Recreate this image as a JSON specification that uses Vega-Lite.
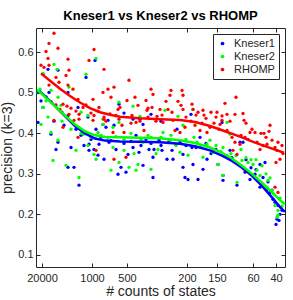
{
"$schema":"https://vega.github.io/schema/vega-lite/v6.json",
"width":249,"height":239,
"autosize":"none",
"padding":{"left":36,"top":28,"right":8,"bottom":33},
"background":"white",
"title":{"text":"Kneser1 vs Kneser2 vs RHOMP","fontSize":13,"font":"Liberation Sans","fontWeight":"bold","color":"#000000","offset":5,"anchor":"middle"},
"config":{
 "view":{"stroke":"#262626","strokeWidth":1},
 "axis":{"labelFont":"Liberation Sans","titleFont":"Liberation Sans","labelColor":"#262626","titleColor":"#262626","tickColor":"#262626","titleFontWeight":"normal","grid":false,"domain":false,"tickSize":-4,"labelFontSize":11,"titleFontSize":14},
 "legend":{"labelFont":"Liberation Sans","labelFontSize":11,"labelColor":"#262626"}
},
"datasets":{
"pts":[
{"series":"Kneser1","rank":59,"p":0.58},{"series":"Kneser1","rank":50,"p":0.538},{"series":"Kneser1","rank":22,"p":0.556},{"series":"Kneser1","rank":7,"p":0.546},{"series":"Kneser1","rank":12,"p":0.558},{"series":"Kneser1","rank":32,"p":0.501},{"series":"Kneser1","rank":13,"p":0.501},{"series":"Kneser1","rank":7,"p":0.464},{"series":"Kneser1","rank":83,"p":0.472},{"series":"Kneser1","rank":32,"p":0.444},{"series":"Kneser1","rank":52,"p":0.44},{"series":"Kneser1","rank":72,"p":0.432},{"series":"Kneser1","rank":42,"p":0.464},
{"series":"Kneser1","rank":115,"p":0.447},{"series":"Kneser1","rank":155,"p":0.447},{"series":"Kneser1","rank":104,"p":0.435},
{"series":"Kneser1","rank":2,"p":0.427},{"series":"Kneser1","rank":15,"p":0.398},{"series":"Kneser1","rank":22,"p":0.378},{"series":"Kneser1","rank":20,"p":0.36},{"series":"Kneser1","rank":32,"p":0.316},{"series":"Kneser1","rank":38,"p":0.316},{"series":"Kneser1","rank":35,"p":0.365},{"series":"Kneser1","rank":43,"p":0.272},{"series":"Kneser1","rank":48,"p":0.37},{"series":"Kneser1","rank":53,"p":0.373},{"series":"Kneser1","rank":53,"p":0.358},{"series":"Kneser1","rank":58,"p":0.36},{"series":"Kneser1","rank":62,"p":0.346},{"series":"Kneser1","rank":63,"p":0.373},{"series":"Kneser1","rank":68,"p":0.336},{"series":"Kneser1","rank":70,"p":0.415},{"series":"Kneser1","rank":73,"p":0.378},{"series":"Kneser1","rank":80,"p":0.36},{"series":"Kneser1","rank":82,"p":0.299},{"series":"Kneser1","rank":85,"p":0.316},{"series":"Kneser1","rank":90,"p":0.304},{"series":"Kneser1","rank":92,"p":0.348},{"series":"Kneser1","rank":97,"p":0.365},{"series":"Kneser1","rank":100,"p":0.395},{"series":"Kneser1","rank":103,"p":0.353},{"series":"Kneser1","rank":107,"p":0.321},{"series":"Kneser1","rank":110,"p":0.385},{"series":"Kneser1","rank":113,"p":0.36},{"series":"Kneser1","rank":117,"p":0.341},{"series":"Kneser1","rank":117,"p":0.291},{"series":"Kneser1","rank":118,"p":0.36},{"series":"Kneser1","rank":123,"p":0.383},{"series":"Kneser1","rank":67,"p":0.422},{"series":"Kneser1","rank":107,"p":0.422},{"series":"Kneser1","rank":97,"p":0.435},
{"series":"Kneser1","rank":126,"p":0.358},{"series":"Kneser1","rank":131,"p":0.336},{"series":"Kneser1","rank":137,"p":0.336},{"series":"Kneser1","rank":136,"p":0.358},{"series":"Kneser1","rank":147,"p":0.348},{"series":"Kneser1","rank":147,"p":0.316},{"series":"Kneser1","rank":149,"p":0.291},{"series":"Kneser1","rank":152,"p":0.286},{"series":"Kneser1","rank":162,"p":0.286},{"series":"Kneser1","rank":167,"p":0.311},{"series":"Kneser1","rank":164,"p":0.39},{"series":"Kneser1","rank":187,"p":0.284},{"series":"Kneser1","rank":187,"p":0.296},{"series":"Kneser1","rank":201,"p":0.272},{"series":"Kneser1","rank":182,"p":0.323},{"series":"Kneser1","rank":186,"p":0.427},{"series":"Kneser1","rank":194,"p":0.358},{"series":"Kneser1","rank":204,"p":0.378},{"series":"Kneser1","rank":207,"p":0.378},{"series":"Kneser1","rank":209,"p":0.304},{"series":"Kneser1","rank":214,"p":0.286},{"series":"Kneser1","rank":219,"p":0.299},{"series":"Kneser1","rank":224,"p":0.267},{"series":"Kneser1","rank":227,"p":0.291},{"series":"Kneser1","rank":231,"p":0.262},{"series":"Kneser1","rank":234,"p":0.254},{"series":"Kneser1","rank":237,"p":0.237},{"series":"Kneser1","rank":239,"p":0.23},{"series":"Kneser1","rank":242,"p":0.222},{"series":"Kneser1","rank":240,"p":0.175},{"series":"Kneser1","rank":241,"p":0.188},{"series":"Kneser1","rank":243,"p":0.185},{"series":"Kneser1","rank":244,"p":0.2},{"series":"Kneser1","rank":156,"p":0.365},{"series":"Kneser1","rank":171,"p":0.336},{"series":"Kneser1","rank":157,"p":0.323},{"series":"Kneser1","rank":144,"p":0.378},{"series":"Kneser1","rank":224,"p":0.323},{"series":"Kneser1","rank":229,"p":0.328},
{"series":"Kneser1","rank":5,"p":0.48},{"series":"Kneser1","rank":10,"p":0.49},{"series":"Kneser1","rank":18,"p":0.43},{"series":"Kneser1","rank":28,"p":0.42},{"series":"Kneser1","rank":40,"p":0.41},{"series":"Kneser1","rank":45,"p":0.395},{"series":"Kneser1","rank":55,"p":0.385},{"series":"Kneser1","rank":65,"p":0.39},{"series":"Kneser1","rank":75,"p":0.382},{"series":"Kneser1","rank":88,"p":0.375},{"series":"Kneser1","rank":95,"p":0.38},{"series":"Kneser1","rank":105,"p":0.37},{"series":"Kneser1","rank":115,"p":0.375},{"series":"Kneser1","rank":125,"p":0.37},{"series":"Kneser1","rank":133,"p":0.38},{"series":"Kneser1","rank":140,"p":0.372},{"series":"Kneser1","rank":150,"p":0.37},{"series":"Kneser1","rank":160,"p":0.365},{"series":"Kneser1","rank":170,"p":0.375},{"series":"Kneser1","rank":175,"p":0.35},{"series":"Kneser1","rank":180,"p":0.36},{"series":"Kneser1","rank":190,"p":0.345},{"series":"Kneser1","rank":196,"p":0.34},{"series":"Kneser1","rank":210,"p":0.335},{"series":"Kneser1","rank":215,"p":0.315},{"series":"Kneser1","rank":220,"p":0.31},{"series":"Kneser1","rank":232,"p":0.28},{"series":"Kneser1","rank":236,"p":0.26},{"series":"Kneser1","rank":246,"p":0.21},{"series":"Kneser1","rank":141,"p":0.41},{"series":"Kneser1","rank":125,"p":0.43},{"series":"Kneser1","rank":88,"p":0.45},{"series":"Kneser1","rank":78,"p":0.42},{"series":"Kneser1","rank":60,"p":0.41},
{"series":"Kneser2","rank":60,"p":0.585},{"series":"Kneser2","rank":50,"p":0.546},{"series":"Kneser2","rank":21,"p":0.558},{"series":"Kneser2","rank":18,"p":0.57},{"series":"Kneser2","rank":7,"p":0.548},{"series":"Kneser2","rank":4,"p":0.509},{"series":"Kneser2","rank":7,"p":0.464},{"series":"Kneser2","rank":15,"p":0.506},{"series":"Kneser2","rank":33,"p":0.514},{"series":"Kneser2","rank":25,"p":0.469},{"series":"Kneser2","rank":52,"p":0.444},{"series":"Kneser2","rank":67,"p":0.435},{"series":"Kneser2","rank":83,"p":0.477},{"series":"Kneser2","rank":45,"p":0.452},{"series":"Kneser2","rank":22,"p":0.489},
{"series":"Kneser2","rank":97,"p":0.467},{"series":"Kneser2","rank":129,"p":0.457},{"series":"Kneser2","rank":104,"p":0.442},{"series":"Kneser2","rank":157,"p":0.459},{"series":"Kneser2","rank":142,"p":0.442},
{"series":"Kneser2","rank":15,"p":0.402},{"series":"Kneser2","rank":22,"p":0.383},{"series":"Kneser2","rank":17,"p":0.333},{"series":"Kneser2","rank":30,"p":0.321},{"series":"Kneser2","rank":40,"p":0.358},{"series":"Kneser2","rank":43,"p":0.291},{"series":"Kneser2","rank":48,"p":0.398},{"series":"Kneser2","rank":52,"p":0.37},{"series":"Kneser2","rank":60,"p":0.336},{"series":"Kneser2","rank":58,"p":0.348},{"series":"Kneser2","rank":67,"p":0.422},{"series":"Kneser2","rank":75,"p":0.309},{"series":"Kneser2","rank":77,"p":0.365},{"series":"Kneser2","rank":83,"p":0.328},{"series":"Kneser2","rank":88,"p":0.358},{"series":"Kneser2","rank":93,"p":0.316},{"series":"Kneser2","rank":100,"p":0.309},{"series":"Kneser2","rank":102,"p":0.323},{"series":"Kneser2","rank":107,"p":0.378},{"series":"Kneser2","rank":112,"p":0.395},{"series":"Kneser2","rank":115,"p":0.311},{"series":"Kneser2","rank":122,"p":0.36},{"series":"Kneser2","rank":83,"p":0.427},{"series":"Kneser2","rank":62,"p":0.402},{"series":"Kneser2","rank":5,"p":0.422},{"series":"Kneser2","rank":88,"p":0.385},{"series":"Kneser2","rank":77,"p":0.415},
{"series":"Kneser2","rank":127,"p":0.402},{"series":"Kneser2","rank":134,"p":0.383},{"series":"Kneser2","rank":144,"p":0.353},{"series":"Kneser2","rank":152,"p":0.346},{"series":"Kneser2","rank":161,"p":0.378},{"series":"Kneser2","rank":174,"p":0.383},{"series":"Kneser2","rank":177,"p":0.353},{"series":"Kneser2","rank":187,"p":0.296},{"series":"Kneser2","rank":182,"p":0.323},{"series":"Kneser2","rank":187,"p":0.365},{"series":"Kneser2","rank":201,"p":0.279},{"series":"Kneser2","rank":206,"p":0.333},{"series":"Kneser2","rank":212,"p":0.328},{"series":"Kneser2","rank":217,"p":0.323},{"series":"Kneser2","rank":221,"p":0.309},{"series":"Kneser2","rank":224,"p":0.296},{"series":"Kneser2","rank":227,"p":0.274},{"series":"Kneser2","rank":232,"p":0.284},{"series":"Kneser2","rank":231,"p":0.267},{"series":"Kneser2","rank":236,"p":0.259},{"series":"Kneser2","rank":239,"p":0.222},{"series":"Kneser2","rank":242,"p":0.21},{"series":"Kneser2","rank":242,"p":0.198},{"series":"Kneser2","rank":241,"p":0.193},{"series":"Kneser2","rank":194,"p":0.398},{"series":"Kneser2","rank":167,"p":0.341},{"series":"Kneser2","rank":147,"p":0.42},{"series":"Kneser2","rank":191,"p":0.427},{"series":"Kneser2","rank":171,"p":0.373},
{"series":"Kneser2","rank":2,"p":0.5},{"series":"Kneser2","rank":10,"p":0.48},{"series":"Kneser2","rank":12,"p":0.44},{"series":"Kneser2","rank":26,"p":0.43},{"series":"Kneser2","rank":35,"p":0.41},{"series":"Kneser2","rank":45,"p":0.4},{"series":"Kneser2","rank":55,"p":0.39},{"series":"Kneser2","rank":65,"p":0.395},{"series":"Kneser2","rank":72,"p":0.39},{"series":"Kneser2","rank":80,"p":0.392},{"series":"Kneser2","rank":95,"p":0.4},{"series":"Kneser2","rank":105,"p":0.385},{"series":"Kneser2","rank":115,"p":0.39},{"series":"Kneser2","rank":125,"p":0.39},{"series":"Kneser2","rank":135,"p":0.395},{"series":"Kneser2","rank":140,"p":0.37},{"series":"Kneser2","rank":150,"p":0.385},{"series":"Kneser2","rank":158,"p":0.39},{"series":"Kneser2","rank":165,"p":0.37},{"series":"Kneser2","rank":180,"p":0.37},{"series":"Kneser2","rank":185,"p":0.355},{"series":"Kneser2","rank":195,"p":0.35},{"series":"Kneser2","rank":200,"p":0.345},{"series":"Kneser2","rank":205,"p":0.36},{"series":"Kneser2","rank":210,"p":0.34},{"series":"Kneser2","rank":215,"p":0.335},{"series":"Kneser2","rank":220,"p":0.335},{"series":"Kneser2","rank":226,"p":0.32},{"series":"Kneser2","rank":230,"p":0.3},{"series":"Kneser2","rank":234,"p":0.29},{"series":"Kneser2","rank":238,"p":0.25},{"series":"Kneser2","rank":244,"p":0.24},{"series":"Kneser2","rank":246,"p":0.22},{"series":"Kneser2","rank":120,"p":0.35},{"series":"Kneser2","rank":98,"p":0.35},
{"series":"RHOMP","rank":18,"p":0.647},{"series":"RHOMP","rank":13,"p":0.622},{"series":"RHOMP","rank":10,"p":0.602},{"series":"RHOMP","rank":22,"p":0.61},{"series":"RHOMP","rank":12,"p":0.585},{"series":"RHOMP","rank":32,"p":0.583},{"series":"RHOMP","rank":58,"p":0.607},{"series":"RHOMP","rank":53,"p":0.58},{"series":"RHOMP","rank":5,"p":0.568},{"series":"RHOMP","rank":8,"p":0.563},{"series":"RHOMP","rank":13,"p":0.568},{"series":"RHOMP","rank":33,"p":0.556},{"series":"RHOMP","rank":68,"p":0.558},{"series":"RHOMP","rank":20,"p":0.538},{"series":"RHOMP","rank":30,"p":0.543},{"series":"RHOMP","rank":23,"p":0.526},{"series":"RHOMP","rank":32,"p":0.519},{"series":"RHOMP","rank":13,"p":0.519},{"series":"RHOMP","rank":37,"p":0.509},{"series":"RHOMP","rank":72,"p":0.509},{"series":"RHOMP","rank":67,"p":0.501},{"series":"RHOMP","rank":78,"p":0.514},{"series":"RHOMP","rank":42,"p":0.484},{"series":"RHOMP","rank":57,"p":0.484},{"series":"RHOMP","rank":47,"p":0.464},{"series":"RHOMP","rank":63,"p":0.464},{"series":"RHOMP","rank":27,"p":0.472},{"series":"RHOMP","rank":75,"p":0.489},{"series":"RHOMP","rank":82,"p":0.459},{"series":"RHOMP","rank":58,"p":0.444},{"series":"RHOMP","rank":68,"p":0.44},{"series":"RHOMP","rank":80,"p":0.444},{"series":"RHOMP","rank":33,"p":0.447},{"series":"RHOMP","rank":43,"p":0.447},
{"series":"RHOMP","rank":93,"p":0.531},{"series":"RHOMP","rank":99,"p":0.489},{"series":"RHOMP","rank":91,"p":0.481},{"series":"RHOMP","rank":115,"p":0.509},{"series":"RHOMP","rank":117,"p":0.496},{"series":"RHOMP","rank":110,"p":0.481},{"series":"RHOMP","rank":102,"p":0.469},{"series":"RHOMP","rank":112,"p":0.462},{"series":"RHOMP","rank":116,"p":0.464},{"series":"RHOMP","rank":111,"p":0.457},{"series":"RHOMP","rank":124,"p":0.459},{"series":"RHOMP","rank":130,"p":0.479},{"series":"RHOMP","rank":134,"p":0.494},{"series":"RHOMP","rank":135,"p":0.506},{"series":"RHOMP","rank":132,"p":0.459},{"series":"RHOMP","rank":136,"p":0.452},{"series":"RHOMP","rank":142,"p":0.479},{"series":"RHOMP","rank":146,"p":0.506},{"series":"RHOMP","rank":147,"p":0.494},{"series":"RHOMP","rank":145,"p":0.469},{"series":"RHOMP","rank":147,"p":0.459},{"series":"RHOMP","rank":156,"p":0.472},{"series":"RHOMP","rank":157,"p":0.459},{"series":"RHOMP","rank":162,"p":0.452},{"series":"RHOMP","rank":167,"p":0.457},{"series":"RHOMP","rank":84,"p":0.464},{"series":"RHOMP","rank":96,"p":0.444},{"series":"RHOMP","rank":121,"p":0.442},
{"series":"RHOMP","rank":200,"p":0.489},{"series":"RHOMP","rank":189,"p":0.474},{"series":"RHOMP","rank":181,"p":0.452},{"series":"RHOMP","rank":175,"p":0.452},{"series":"RHOMP","rank":180,"p":0.44},{"series":"RHOMP","rank":191,"p":0.447},{"series":"RHOMP","rank":199,"p":0.447},{"series":"RHOMP","rank":207,"p":0.449},{"series":"RHOMP","rank":208,"p":0.432},{"series":"RHOMP","rank":186,"p":0.432},{"series":"RHOMP","rank":170,"p":0.437},
{"series":"RHOMP","rank":127,"p":0.427},{"series":"RHOMP","rank":137,"p":0.432},{"series":"RHOMP","rank":139,"p":0.407},{"series":"RHOMP","rank":144,"p":0.402},{"series":"RHOMP","rank":149,"p":0.415},{"series":"RHOMP","rank":159,"p":0.42},{"series":"RHOMP","rank":164,"p":0.407},{"series":"RHOMP","rank":171,"p":0.402},{"series":"RHOMP","rank":174,"p":0.415},{"series":"RHOMP","rank":184,"p":0.422},{"series":"RHOMP","rank":191,"p":0.407},{"series":"RHOMP","rank":196,"p":0.39},{"series":"RHOMP","rank":199,"p":0.378},{"series":"RHOMP","rank":204,"p":0.373},{"series":"RHOMP","rank":209,"p":0.39},{"series":"RHOMP","rank":214,"p":0.402},{"series":"RHOMP","rank":219,"p":0.402},{"series":"RHOMP","rank":221,"p":0.378},{"series":"RHOMP","rank":224,"p":0.36},{"series":"RHOMP","rank":227,"p":0.37},{"series":"RHOMP","rank":231,"p":0.373},{"series":"RHOMP","rank":234,"p":0.42},{"series":"RHOMP","rank":236,"p":0.383},{"series":"RHOMP","rank":239,"p":0.365},{"series":"RHOMP","rank":241,"p":0.358},{"series":"RHOMP","rank":242,"p":0.378},{"series":"RHOMP","rank":244,"p":0.336},{"series":"RHOMP","rank":240,"p":0.328},{"series":"RHOMP","rank":197,"p":0.358},{"series":"RHOMP","rank":177,"p":0.36},{"series":"RHOMP","rank":201,"p":0.348},{"series":"RHOMP","rank":239,"p":0.267},{"series":"RHOMP","rank":242,"p":0.254},
{"series":"RHOMP","rank":18,"p":0.432},{"series":"RHOMP","rank":27,"p":0.415},{"series":"RHOMP","rank":43,"p":0.435},{"series":"RHOMP","rank":57,"p":0.432},{"series":"RHOMP","rank":68,"p":0.435},{"series":"RHOMP","rank":42,"p":0.39},{"series":"RHOMP","rank":60,"p":0.358},{"series":"RHOMP","rank":77,"p":0.402},{"series":"RHOMP","rank":78,"p":0.336},{"series":"RHOMP","rank":88,"p":0.402},{"series":"RHOMP","rank":90,"p":0.341},{"series":"RHOMP","rank":83,"p":0.435},{"series":"RHOMP","rank":100,"p":0.427},{"series":"RHOMP","rank":108,"p":0.407},{"series":"RHOMP","rank":38,"p":0.432},{"series":"RHOMP","rank":24,"p":0.459},{"series":"RHOMP","rank":31,"p":0.467},
{"series":"RHOMP","rank":15,"p":0.478},{"series":"RHOMP","rank":20,"p":0.47},{"series":"RHOMP","rank":26,"p":0.452},{"series":"RHOMP","rank":35,"p":0.462},{"series":"RHOMP","rank":40,"p":0.455},{"series":"RHOMP","rank":50,"p":0.47},{"series":"RHOMP","rank":55,"p":0.45},{"series":"RHOMP","rank":62,"p":0.455},{"series":"RHOMP","rank":70,"p":0.43},{"series":"RHOMP","rank":74,"p":0.448},{"series":"RHOMP","rank":86,"p":0.42},{"series":"RHOMP","rank":95,"p":0.425},{"series":"RHOMP","rank":104,"p":0.43},{"series":"RHOMP","rank":112,"p":0.44},{"series":"RHOMP","rank":120,"p":0.43},{"series":"RHOMP","rank":126,"p":0.445},{"series":"RHOMP","rank":150,"p":0.44},{"series":"RHOMP","rank":155,"p":0.43},{"series":"RHOMP","rank":160,"p":0.445},{"series":"RHOMP","rank":166,"p":0.425},{"series":"RHOMP","rank":178,"p":0.425},{"series":"RHOMP","rank":186,"p":0.443},{"series":"RHOMP","rank":194,"p":0.43},{"series":"RHOMP","rank":210,"p":0.425},{"series":"RHOMP","rank":216,"p":0.41},{"series":"RHOMP","rank":225,"p":0.4},{"series":"RHOMP","rank":230,"p":0.39},{"series":"RHOMP","rank":233,"p":0.405},{"series":"RHOMP","rank":246,"p":0.37},{"series":"RHOMP","rank":247,"p":0.35},{"series":"RHOMP","rank":228,"p":0.4},{"series":"RHOMP","rank":212,"p":0.385},{"series":"RHOMP","rank":205,"p":0.395},{"series":"RHOMP","rank":183,"p":0.41},{"series":"RHOMP","rank":168,"p":0.445}
],
"fit":[
{"series":"RHOMP","rank":5,"p":0.548},{"series":"RHOMP","rank":14,"p":0.53},{"series":"RHOMP","rank":24,"p":0.51},{"series":"RHOMP","rank":34,"p":0.492},{"series":"RHOMP","rank":44,"p":0.476},{"series":"RHOMP","rank":54,"p":0.462},{"series":"RHOMP","rank":64,"p":0.452},{"series":"RHOMP","rank":74,"p":0.446},{"series":"RHOMP","rank":84,"p":0.441},{"series":"RHOMP","rank":104,"p":0.437},{"series":"RHOMP","rank":124,"p":0.435},{"series":"RHOMP","rank":144,"p":0.433},{"series":"RHOMP","rank":159,"p":0.428},{"series":"RHOMP","rank":174,"p":0.418},{"series":"RHOMP","rank":189,"p":0.405},{"series":"RHOMP","rank":204,"p":0.392},{"series":"RHOMP","rank":219,"p":0.377},{"series":"RHOMP","rank":234,"p":0.364},{"series":"RHOMP","rank":248,"p":0.352},
{"series":"Kneser1","rank":1,"p":0.5},{"series":"Kneser1","rank":4,"p":0.503},{"series":"Kneser1","rank":14,"p":0.48},{"series":"Kneser1","rank":24,"p":0.455},{"series":"Kneser1","rank":30,"p":0.44},{"series":"Kneser1","rank":39,"p":0.418},{"series":"Kneser1","rank":49,"p":0.4},{"series":"Kneser1","rank":59,"p":0.387},{"series":"Kneser1","rank":69,"p":0.382},{"series":"Kneser1","rank":84,"p":0.38},{"series":"Kneser1","rank":104,"p":0.379},{"series":"Kneser1","rank":124,"p":0.378},{"series":"Kneser1","rank":144,"p":0.374},{"series":"Kneser1","rank":159,"p":0.368},{"series":"Kneser1","rank":174,"p":0.358},{"series":"Kneser1","rank":186,"p":0.345},{"series":"Kneser1","rank":196,"p":0.332},{"series":"Kneser1","rank":206,"p":0.315},{"series":"Kneser1","rank":216,"p":0.295},{"series":"Kneser1","rank":226,"p":0.27},{"series":"Kneser1","rank":236,"p":0.242},{"series":"Kneser1","rank":244,"p":0.218},{"series":"Kneser1","rank":249,"p":0.206},
{"series":"Kneser2","rank":1,"p":0.508},{"series":"Kneser2","rank":9,"p":0.49},{"series":"Kneser2","rank":19,"p":0.467},{"series":"Kneser2","rank":29,"p":0.444},{"series":"Kneser2","rank":39,"p":0.422},{"series":"Kneser2","rank":49,"p":0.405},{"series":"Kneser2","rank":59,"p":0.395},{"series":"Kneser2","rank":69,"p":0.391},{"series":"Kneser2","rank":84,"p":0.39},{"series":"Kneser2","rank":104,"p":0.389},{"series":"Kneser2","rank":124,"p":0.388},{"series":"Kneser2","rank":144,"p":0.383},{"series":"Kneser2","rank":159,"p":0.376},{"series":"Kneser2","rank":174,"p":0.365},{"series":"Kneser2","rank":186,"p":0.352},{"series":"Kneser2","rank":196,"p":0.338},{"series":"Kneser2","rank":206,"p":0.32},{"series":"Kneser2","rank":216,"p":0.3},{"series":"Kneser2","rank":226,"p":0.278},{"series":"Kneser2","rank":236,"p":0.254},{"series":"Kneser2","rank":244,"p":0.235},{"series":"Kneser2","rank":249,"p":0.225}
]
},
"layer":[
{"data":{"name":"pts"},
 "mark":{"type":"point","filled":true,"shape":"circle","size":11,"opacity":1},
 "encoding":{
  "x":{"field":"rank","type":"quantitative","scale":{"domain":[0,249],"nice":false,"zero":false},
   "axis":{"orient":"bottom","values":[6,56,91,151,181,217,240],"labelExpr":"datum.value==6?'20000':datum.value==56?'1000':datum.value==91?'500':datum.value==151?'200':datum.value==181?'150':datum.value==217?'60':'40'","title":"# counts of states","labelPadding":9,"titlePadding":1,"labelFlush":false,"labelOverlap":false}},
  "y":{"field":"p","type":"quantitative","scale":{"domain":[0.07,0.66],"nice":false,"zero":false},
   "axis":{"orient":"left","values":[0.1,0.2,0.3,0.4,0.5,0.6],"format":".1f","title":"precision (k=3)","labelPadding":7,"titlePadding":3,"labelFlush":false}},
  "color":{"field":"series","type":"nominal","scale":{"domain":["Kneser1","Kneser2","RHOMP"],"range":["#0000ff","#00ff00","#ff0000"]},
   "legend":{"title":null,"orient":"top-right","offset":6,"strokeColor":"#262626","fillColor":"white","padding":4,"symbolType":"circle","symbolSize":14,"rowPadding":1,"labelOffset":6,"symbolStrokeWidth":0}}
 }},
{"data":{"name":"fit"},
 "mark":{"type":"line","strokeWidth":2.5},
 "encoding":{
  "x":{"field":"rank","type":"quantitative","axis":{"orient":"top","values":[6,56,91,151,181,217,240],"labels":false,"title":null}},
  "y":{"field":"p","type":"quantitative","axis":{"orient":"right","values":[0.1,0.2,0.3,0.4,0.5,0.6],"labels":false,"title":null}},
  "color":{"field":"series","type":"nominal","legend":null}
 }}
],
"resolve":{"axis":{"x":"independent","y":"independent"}}
}
